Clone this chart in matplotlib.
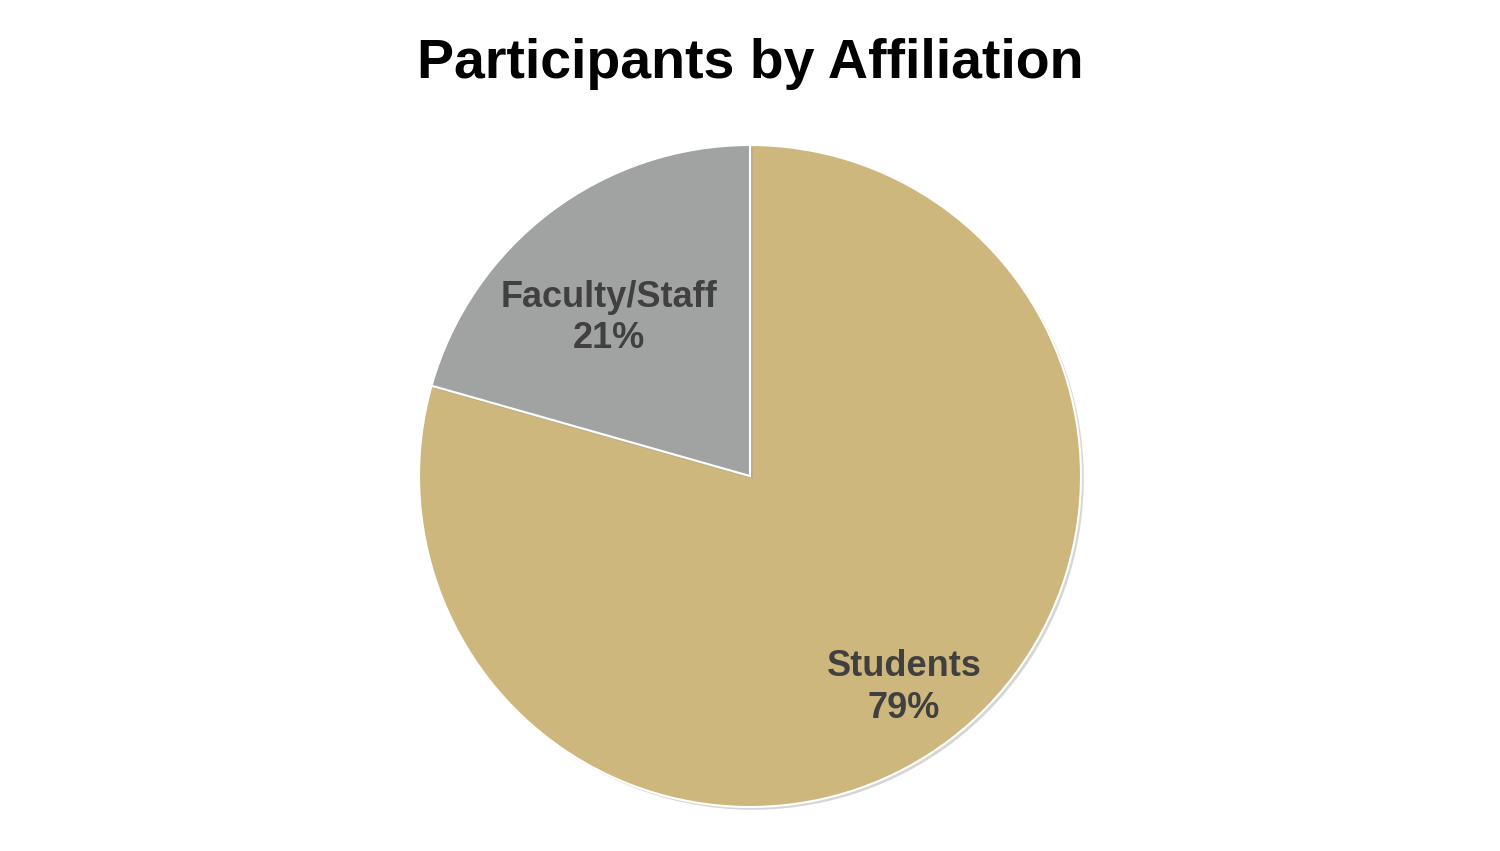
import matplotlib
matplotlib.use("Agg")
import matplotlib.pyplot as plt
import matplotlib.patheffects as pe
import numpy as np

title = "Participants by Affiliation"
categories = ["Students", "Faculty/Staff"]
values = [79.4, 20.6]
colors = ["#CDB77C", "#A1A3A2"]

plt.rcParams['font.family'] = ['Liberation Sans', 'DejaVu Sans']

fig = plt.figure(figsize=(15, 8.51), dpi=100)
fig.patch.set_facecolor("white")

cx, cy, r = 750, 476, 331
W, H = 1500, 851
ax = fig.add_axes([(cx - r) / W, (H - cy - r) / H, 2 * r / W, 2 * r / H])

wedges, _ = ax.pie(values, colors=colors, startangle=90, counterclock=False,
                   radius=1.0, wedgeprops=dict(edgecolor="white", linewidth=1.5),
                   shadow=False)
for w in wedges:
    w.set_path_effects([pe.SimplePatchShadow(offset=(2, -2), shadow_rgbFace="#999999", alpha=0.4),
                        pe.Normal()])

dists = [0.79, 0.64]
angle_adj = [-1.0, 4.6]
for w, cat, v, d, adj in zip(wedges, categories, values, dists, angle_adj):
    th = np.deg2rad((w.theta1 + w.theta2) / 2 + adj)
    ax.text(d * np.cos(th), d * np.sin(th), f"{cat}\n{round(v)}%", ha="center", va="center",
            fontsize=26, fontweight="bold", color="#404040", linespacing=1.24)

ax.set_xlim(-1, 1)
ax.set_ylim(-1, 1)
ax.set_aspect("equal")
ax.axis("off")

fig.text(0.5, 1 - 64 / H, title, ha="center", va="center", fontsize=40,
         fontweight="bold", color="black")

fig.savefig("out.png", dpi=100, facecolor="white")
